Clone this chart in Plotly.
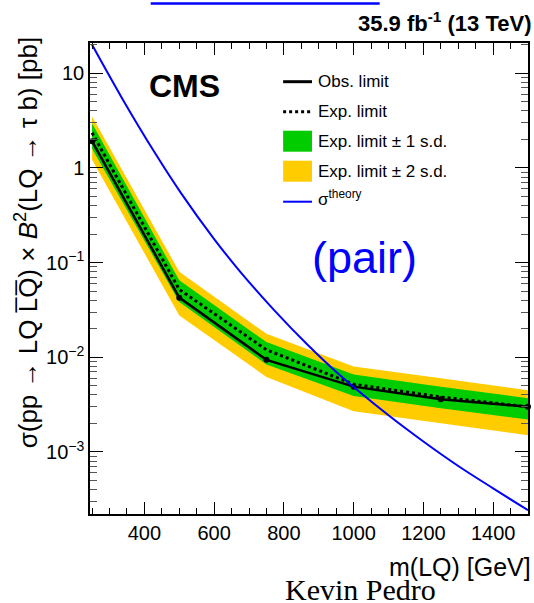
import plotly.graph_objects as go

# ---------------- data ----------------
mass = [250, 500, 750, 1000, 1250, 1500]
obs_limit = [1.91, 0.0427, 0.0094, 0.0049, 0.0036, 0.0030]
exp_limit = [2.35, 0.052, 0.0120, 0.0052, 0.0038, 0.0030]
exp_1sd_up = [2.95, 0.065, 0.0145, 0.0066, 0.0049, 0.0037]
exp_1sd_dn = [1.60, 0.0384, 0.0084, 0.0039, 0.0029, 0.0022]
exp_2sd_up = [3.50, 0.080, 0.0177, 0.0080, 0.0060, 0.0045]
exp_2sd_dn = [1.22, 0.0277, 0.0062, 0.0027, 0.0020, 0.0015]

theory_mass = [250, 335, 430, 505, 600, 675, 770, 865, 960, 1100, 1200, 1300, 1400, 1500]
theory_xsec = [20.0, 5.53, 1.447, 0.543, 0.1775, 0.080, 0.0321, 0.0139, 0.0065,
               0.00244, 0.00129, 0.000711, 0.000413, 0.000243]

y_tickvals = [0.001, 0.01, 0.1, 1, 10]
y_ticktext = ["10<sup>\u22123</sup>", "10<sup>\u22122</sup>", "10<sup>\u22121</sup>", "1", "10"]

legend_labels = ["Obs. limit", "Exp. limit", "Exp. limit \u00b1 1 s.d.",
                 "Exp. limit \u00b1 2 s.d.", "\u03c3<sup>theory</sup>"]

GREEN = "#00cc00"
YELLOW = "#ffcc00"
BLUE = "#0000ff"
FONT = "Liberation Sans, Arial, Helvetica, sans-serif"

# ---------------- geometry helpers ----------------
W, H = 534, 603
L, R, T, B = 90, 4, 43, 89
PW, PH = W - L - R, H - T - B


def px(x):
    return (x - L) / PW


def py(y):
    return (H - B - y) / PH


fig = go.Figure()

# +-2 s.d. band
fig.add_trace(go.Scatter(
    x=mass + mass[::-1], y=exp_2sd_up + exp_2sd_dn[::-1],
    fill="toself", fillcolor=YELLOW, line=dict(width=0), mode="lines",
    showlegend=False, hoverinfo="skip"))
# +-1 s.d. band
fig.add_trace(go.Scatter(
    x=mass + mass[::-1], y=exp_1sd_up + exp_1sd_dn[::-1],
    fill="toself", fillcolor=GREEN, line=dict(width=0), mode="lines",
    showlegend=False, hoverinfo="skip"))
# expected
fig.add_trace(go.Scatter(
    x=mass, y=exp_limit, mode="lines",
    line=dict(color="black", width=3, dash="dot"), showlegend=False))
# observed
fig.add_trace(go.Scatter(
    x=mass, y=obs_limit, mode="lines+markers",
    line=dict(color="black", width=2.5),
    marker=dict(color="black", size=6), showlegend=False, cliponaxis=False))
# theory
fig.add_trace(go.Scatter(
    x=theory_mass, y=theory_xsec, mode="lines", line_shape="spline",
    line=dict(color=BLUE, width=2, smoothing=1.0), showlegend=False))

# ---------------- axes ----------------
minor_y = [m * 10 ** e for e in range(-4, 2) for m in range(2, 10)]

fig.update_xaxes(
    range=[244, 1500], showgrid=False, zeroline=False,
    showline=True, linecolor="black", linewidth=1.5, mirror="ticks",
    ticks="inside", ticklen=12, tickwidth=1, tickcolor="black",
    tick0=0, dtick=200,
    minor=dict(ticks="inside", ticklen=6, dtick=50, tick0=0, tickcolor="black", showgrid=False),
    tickfont=dict(family=FONT, size=20, color="black"))

fig.update_yaxes(
    type="log", range=[-3.655, 1.32], showgrid=False, zeroline=False,
    showline=True, linecolor="black", linewidth=1.5, mirror="ticks",
    ticks="inside", ticklen=13, tickwidth=1, tickcolor="black",
    tickmode="array", tickvals=y_tickvals, ticktext=y_ticktext,
    minor=dict(ticks="inside", ticklen=7, tickmode="array", tickvals=minor_y,
               tickcolor="#555555", showgrid=False),
    tickfont=dict(family=FONT, size=20, color="black"))

# ---------------- legend (drawn manually) ----------------
shapes = []
key_x0, key_x1 = 284, 313
row_y = [81.7, 111.7, 141.2, 171.2, 201.7]
shapes.append(dict(type="line", xref="paper", yref="paper",
                   x0=px(key_x0), x1=px(key_x1), y0=py(row_y[0]), y1=py(row_y[0]),
                   line=dict(color="black", width=3)))
shapes.append(dict(type="line", xref="paper", yref="paper",
                   x0=px(key_x0), x1=px(key_x1), y0=py(row_y[1]), y1=py(row_y[1]),
                   line=dict(color="black", width=3, dash="dot")))
shapes.append(dict(type="rect", xref="paper", yref="paper",
                   x0=px(key_x0), x1=px(key_x1), y0=py(row_y[2] - 10.5), y1=py(row_y[2] + 10.5),
                   fillcolor=GREEN, line=dict(width=0)))
shapes.append(dict(type="rect", xref="paper", yref="paper",
                   x0=px(key_x0), x1=px(key_x1), y0=py(row_y[3] - 10.5), y1=py(row_y[3] + 10.5),
                   fillcolor=YELLOW, line=dict(width=0)))
shapes.append(dict(type="line", xref="paper", yref="paper",
                   x0=px(key_x0), x1=px(key_x1), y0=py(row_y[4]), y1=py(row_y[4]),
                   line=dict(color=BLUE, width=2)))
# decorative blue rule at the top of the slide
shapes.append(dict(type="line", xref="paper", yref="paper",
                   x0=px(151), x1=px(381), y0=py(3.4), y1=py(3.4),
                   line=dict(color=BLUE, width=2.5)))

annotations = []
text_y = [81.7, 111.7, 141.2, 171.2, 198.0]
for lbl, yy in zip(legend_labels, text_y):
    annotations.append(dict(text=lbl, xref="paper", yref="paper", x=px(317), y=py(yy),
                            xanchor="left", yanchor="middle", showarrow=False,
                            font=dict(family=FONT, size=17, color="black")))

annotations += [
    dict(text="<b>CMS</b>", xref="paper", yref="paper", x=px(185), y=py(86),
         xanchor="center", yanchor="middle", showarrow=False,
         font=dict(family=FONT, size=32, color="black")),
    dict(text="<b>35.9 fb<sup>-1</sup> (13 TeV)</b>", xref="paper", yref="paper",
         x=px(535), y=py(22), xanchor="right", yanchor="middle", showarrow=False,
         font=dict(family=FONT, size=22, color="black")),
    dict(text="(pair)", xref="paper", yref="paper", x=px(366), y=py(257.5),
         xanchor="center", yanchor="middle", showarrow=False,
         font=dict(family=FONT, size=45, color=BLUE)),
    dict(text="m(LQ) [GeV]", xref="paper", yref="paper", x=px(535), y=py(567),
         xanchor="right", yanchor="middle", showarrow=False,
         font=dict(family=FONT, size=25, color="black")),
    dict(text="\u03c3(pp \u2192 LQ L\u0305Q\u0305) \u00d7 <i>B</i><sup>2</sup>(LQ \u2192 \u03c4 b) [pb]",
         xref="paper", yref="paper", x=px(26), y=py(243), textangle=-90,
         xanchor="center", yanchor="middle", showarrow=False,
         font=dict(family=FONT, size=26, color="black")),
    dict(text="Kevin Pedro", xref="paper", yref="paper", x=px(362), y=py(589),
         xanchor="center", yanchor="middle", showarrow=False, borderpad=0,
         font=dict(family="Liberation Serif, Times New Roman, serif", size=30, color="black")),
]

fig.update_layout(
    width=W, height=H,
    margin=dict(l=L, r=R, t=T, b=B),
    paper_bgcolor="white", plot_bgcolor="white",
    showlegend=False,
    shapes=shapes, annotations=annotations,
)

fig.write_html("out.html")
